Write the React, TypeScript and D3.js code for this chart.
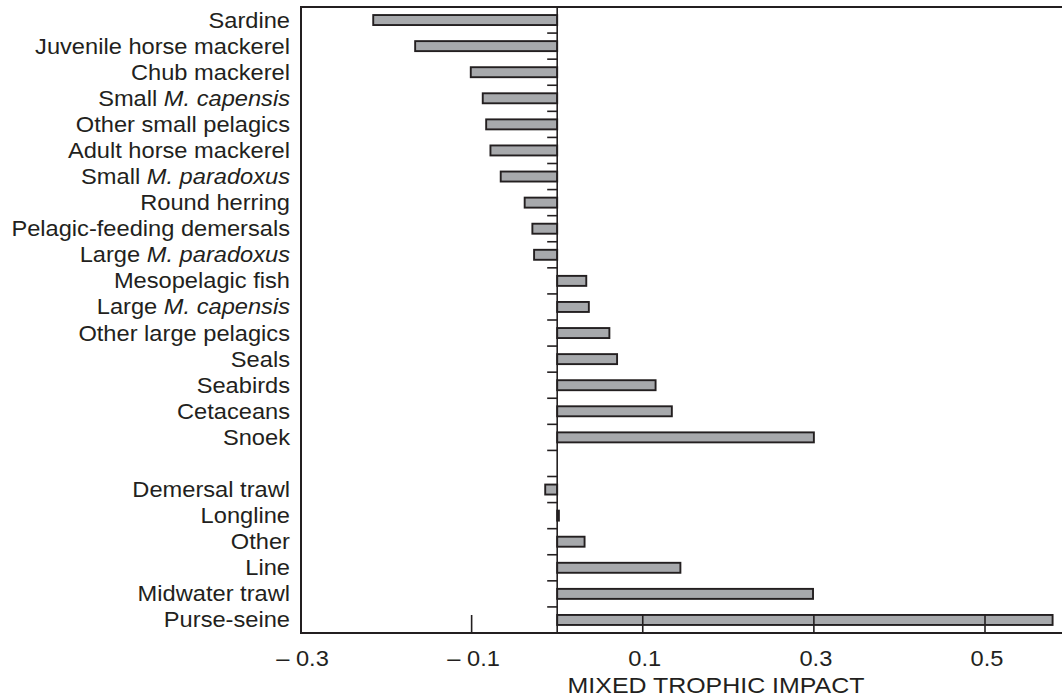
import React from "react";
import * as d3 from "d3";

const speciesLabels = [
  "Sardine",
  "Juvenile horse mackerel",
  "Chub mackerel",
  "Small M. capensis",
  "Other small pelagics",
  "Adult horse mackerel",
  "Small M. paradoxus",
  "Round herring",
  "Pelagic-feeding demersals",
  "Large M. paradoxus",
  "Mesopelagic fish",
  "Large M. capensis",
  "Other large pelagics",
  "Seals",
  "Seabirds",
  "Cetaceans",
  "Snoek",
];
const speciesValues = [
  -0.215, -0.166, -0.101, -0.087, -0.083, -0.078, -0.066, -0.038, -0.029, -0.027,
  0.034, 0.037, 0.061, 0.07, 0.115, 0.134, 0.3,
];
const fisheryLabels = ["Demersal trawl", "Longline", "Other", "Line", "Midwater trawl", "Purse-seine"];
const fisheryValues = [-0.014, 0.002, 0.032, 0.144, 0.299, 0.579];
const xTicks = [-0.3, -0.1, 0.1, 0.3, 0.5];
const xTitle = "MIXED TROPHIC IMPACT";

const W = 1062;
const H = 698;
const left = 301;
const top = 7;
const bottom = 633;
const right = 1062;
const FONT = "'Liberation Sans', Arial, Helvetica, sans-serif";
const FS = 21.5;
const SX = 1.1;
const INK = "#231f20";

const GAP = "__gap__";

function Label({ text, x, y, anchor }: { text: string; x: number; y: number; anchor: string }) {
  const idx = text.indexOf("M. ");
  let content: React.ReactNode = text;
  if (idx >= 0) {
    content = (
      <>
        <tspan>{text.slice(0, idx)}</tspan>
        <tspan fontStyle="italic">{text.slice(idx)}</tspan>
      </>
    );
  }
  return (
    <text
      transform={`translate(${x},${y}) scale(${SX},1)`}
      textAnchor={anchor}
      fontFamily={FONT}
      fontSize={FS}
      fill={INK}
      dy="0.35em"
    >
      {content}
    </text>
  );
}

export default function App() {
  const rows = [
    ...speciesLabels.map((l, i) => ({ key: "s" + i, label: l, value: speciesValues[i] })),
    { key: GAP, label: "", value: NaN },
    ...fisheryLabels.map((l, i) => ({ key: "f" + i, label: l, value: fisheryValues[i] })),
  ];
  const y = d3.scaleBand<string>().domain(rows.map((r) => r.key)).range([top, bottom]).padding(0);
  const x = d3.scaleLinear().domain([-0.3, 0.5]).range([left - 0.5, 985]);
  const x0 = x(0);
  const bw = y.bandwidth();
  const barH = 10;
  const boundaries = rows.slice(1).map((r) => y(r.key) as number);

  return (
    <svg
      width={W}
      height={H}
      style={{ position: "absolute", left: 0, top: 0, background: "#fff" }}
    >
      {/* bars */}
      {rows
        .filter((r) => r.key !== GAP)
        .map((r) => {
          const cy = (y(r.key) as number) + bw / 2;
          const xa = x(Math.min(0, r.value));
          const xb = x(Math.max(0, r.value));
          return (
            <rect
              key={r.key}
              x={xa}
              y={cy - barH / 2}
              width={Math.max(xb - xa, 0.5)}
              height={barH}
              fill="#a7a9ac"
              stroke={INK}
              strokeWidth={1.9}
            />
          );
        })}
      {/* frame */}
      <line x1={left} x2={right} y1={top} y2={top} stroke={INK} strokeWidth={2} />
      <line x1={left} x2={left} y1={top - 1} y2={bottom + 1} stroke={INK} strokeWidth={2} />
      <line x1={left - 1} x2={right} y1={bottom} y2={bottom} stroke={INK} strokeWidth={2} />
      {/* zero line */}
      <line x1={x0} x2={x0} y1={top} y2={bottom} stroke={INK} strokeWidth={1.6} />
      {boundaries.map((b, i) => (
        <line key={i} x1={x0 - 10} x2={x0} y1={b} y2={b} stroke={INK} strokeWidth={1.6} />
      ))}
      {/* x ticks */}
      {xTicks
        .filter((t) => t !== -0.3)
        .map((t) => (
          <line key={t} x1={x(t)} x2={x(t)} y1={bottom - 18} y2={bottom} stroke={INK} strokeWidth={1.6} />
        ))}
      {xTicks.map((t) => (
        <text
          key={"l" + t}
          transform={`translate(${x(t) + 2},666) scale(${SX},1)`}
          textAnchor="middle"
          fontFamily={FONT}
          fontSize={FS}
          fill={INK}
        >
          {t < 0 ? "\u2013 " + Math.abs(t).toFixed(1) : t.toFixed(1)}
        </text>
      ))}
      <text
        transform={`translate(716,693) scale(1.16,1)`}
        textAnchor="middle"
        fontFamily={FONT}
        fontSize={FS}
        fill={INK}
      >
        {xTitle}
      </text>
      {/* category labels */}
      {rows
        .filter((r) => r.key !== GAP)
        .map((r) => (
          <Label key={"t" + r.key} text={r.label} x={290} y={(y(r.key) as number) + bw / 2} anchor="end" />
        ))}
    </svg>
  );
}
